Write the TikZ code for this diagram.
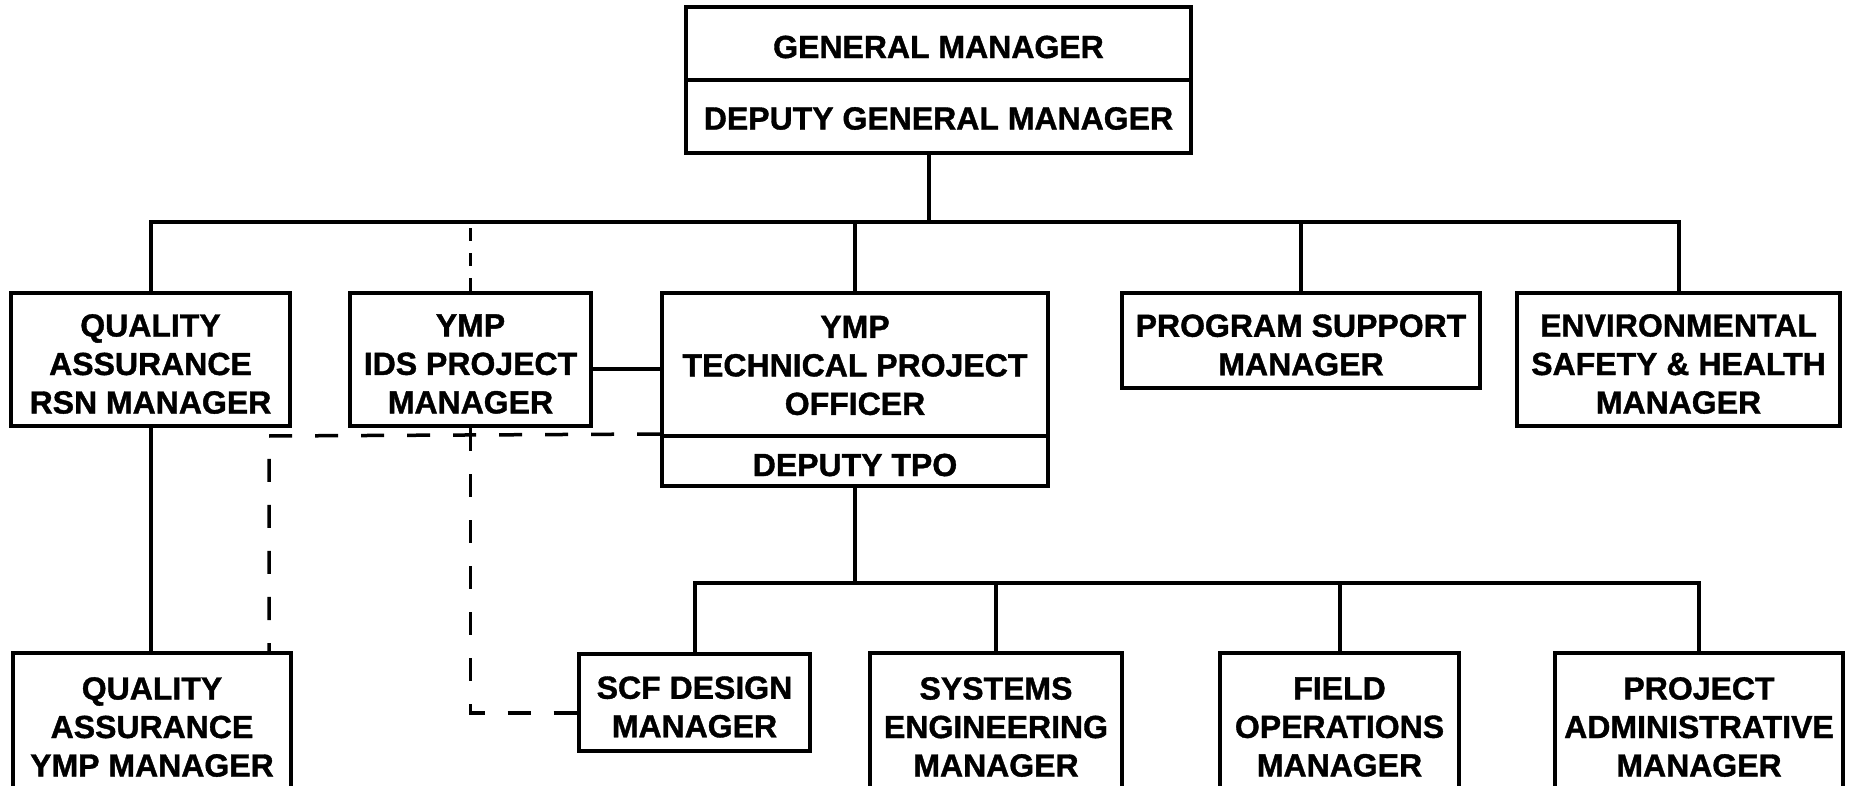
\documentclass[tikz,border=0pt]{standalone}
\usepackage{fontspec}
\setmainfont{Liberation Sans}[BoldFeatures={FakeBold=1.2}]
\begin{document}
\begin{tikzpicture}[x=1pt,y=-1pt,
  box/.style={draw, line width=4pt, inner sep=0pt},
  txt/.style={inner sep=0pt, align=center,
    font=\bfseries\fontsize{32}{38.5}\selectfont},
  conn/.style={line width=4pt},
  dashA/.style={line width=3.5pt, dash pattern=on 13pt off 12pt},
  dashB/.style={line width=3.5pt, dash pattern=on 23pt off 23pt}]
\useasboundingbox (0,0) rectangle (1854,786);
\clip (0,0) rectangle (1854,786);
% top
\node[box, minimum width=505pt, minimum height=73pt] (gm) at (938.5,43.5) {};
\node[box, minimum width=505pt, minimum height=73pt] (dgm) at (938.5,116.5) {};
% row 1
\node[box, minimum width=279pt, minimum height=133pt] (qarsn) at (150.5,359.5) {};
\node[box, minimum width=241pt, minimum height=133pt] (ids) at (470.5,359.5) {};
\node[box, minimum width=386pt, minimum height=143pt] (tpo) at (855,364.5) {};
\node[box, minimum width=386pt, minimum height=50pt] (dtpo) at (855,461) {};
\node[box, minimum width=358pt, minimum height=95pt] (psm) at (1301,340.5) {};
\node[box, minimum width=323pt, minimum height=133pt] (env) at (1678.5,359.5) {};
% row 2
\node[box, minimum width=278pt, minimum height=144pt] (qaymp) at (152,725) {};
\node[box, minimum width=231pt, minimum height=97pt] (scf) at (694.5,702.5) {};
\node[box, minimum width=252pt, minimum height=144pt] (se) at (996,725) {};
\node[box, minimum width=239pt, minimum height=144pt] (fo) at (1339.5,725) {};
\node[box, minimum width=288pt, minimum height=144pt] (pam) at (1699,725) {};
% texts
\node[txt] (gmT) at ([yshift=-3.5pt]gm.center) {GENERAL MANAGER};
\node[txt] (dgmT) at ([yshift=-2pt]dgm.center) {DEPUTY GENERAL MANAGER};
\node[txt] (qarsnT) at ([yshift=-4.5pt]qarsn.center) {QUALITY\\ASSURANCE\\RSN MANAGER};
\node[txt] (idsT) at ([yshift=-4.5pt]ids.center) {YMP\\IDS PROJECT\\MANAGER};
\node[txt] (tpoT) at ([yshift=-1pt]tpo.center) {YMP\\TECHNICAL PROJECT\\OFFICER};
\node[txt] (dtpoT) at ([yshift=-4pt]dtpo.center) {DEPUTY TPO};
\node[txt] (psmT) at ([yshift=-4.5pt]psm.center) {PROGRAM SUPPORT\\MANAGER};
\node[txt] (envT) at ([yshift=-4.5pt]env.center) {ENVIRONMENTAL\\SAFETY \& HEALTH\\MANAGER};
\node[txt] (qaympT) at ([yshift=-2pt]qaymp.center) {QUALITY\\ASSURANCE\\YMP MANAGER};
\node[txt] (scfT) at ([yshift=-4.5pt]scf.center) {SCF DESIGN\\MANAGER};
\node[txt] (seT) at ([yshift=-2pt]se.center) {SYSTEMS\\ENGINEERING\\MANAGER};
\node[txt] (foT) at ([yshift=-2pt]fo.center) {FIELD\\OPERATIONS\\MANAGER};
\node[txt] (pamT) at ([yshift=-2pt]pam.center) {PROJECT\\ADMINISTRATIVE\\MANAGER};
% helper coordinates
\coordinate (bus) at (0,222);
\coordinate (bus2) at (0,583);
\coordinate (trunk) at (929,0);
\coordinate (link) at (0,369);
\coordinate (dcorner) at (269,436);
\coordinate (scfy) at (470,713);
% connectors
\draw[conn] (trunk |- dgm.south) -- (trunk |- bus);
\draw[conn] (qarsn.north) |- (env.north |- bus) -- (env.north);
\draw[conn] (tpo.north) -- (tpo.north |- bus);
\draw[conn] (psm.north) -- (psm.north |- bus);
\draw[dashA] (ids.north) -- (ids.north |- bus);
\draw[conn] (link -| ids.east) -- (link -| tpo.west);
\draw[conn] (qarsn.south) -- (qarsn.south |- qaymp.north);
\draw[dashB] (dtpo.north west) -- (dcorner) -- (dcorner |- qaymp.north);
\draw[dashB] (ids.south) -- (ids.south |- scfy) -- (scfy -| scf.west);
\draw[conn] (dtpo.south) -- (dtpo.south |- bus2);
\draw[conn] (scf.north) |- (pam.north |- bus2) -- (pam.north);
\draw[conn] (se.north) -- (se.north |- bus2);
\draw[conn] (fo.north) -- (fo.north |- bus2);
\end{tikzpicture}
\end{document}
